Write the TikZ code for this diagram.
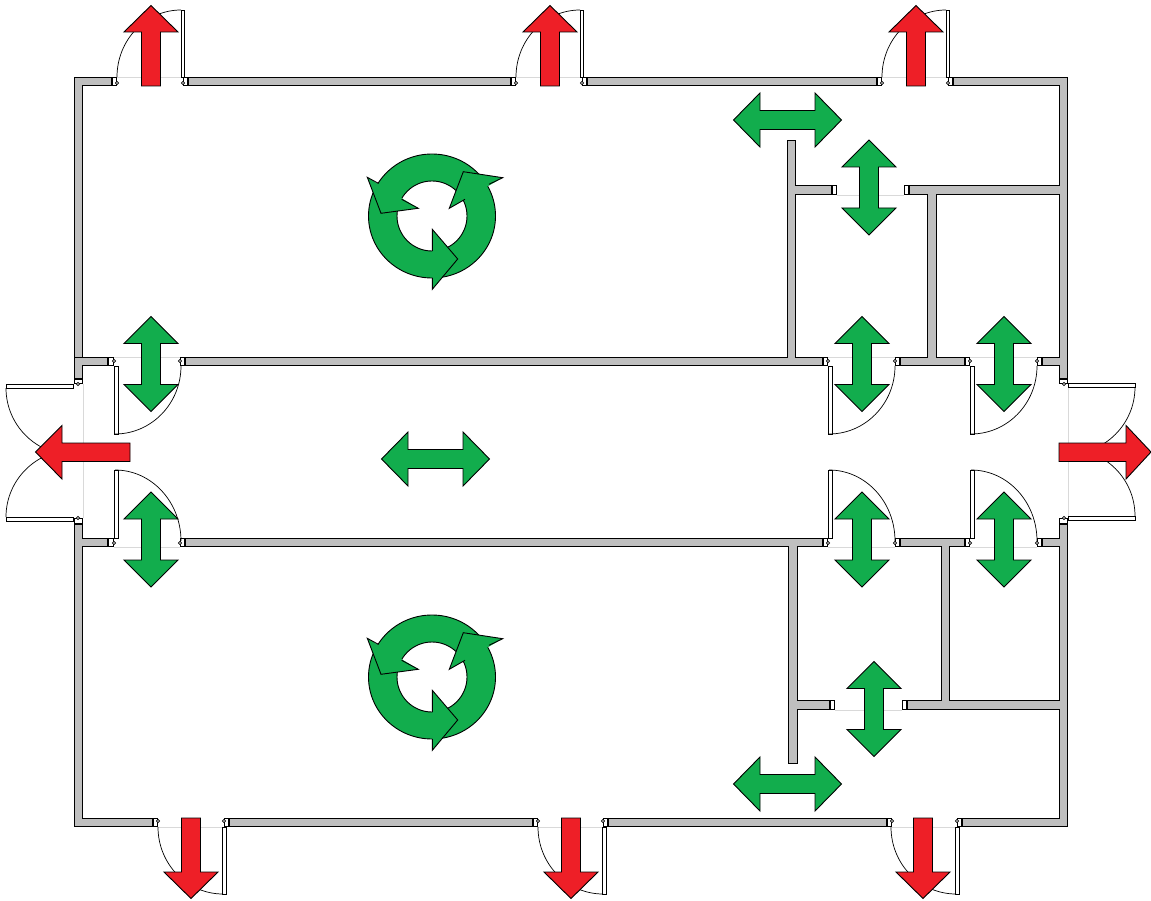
\documentclass[tikz,border=0pt]{standalone}
\usepackage{tikz}

\definecolor{wallgray}{HTML}{BFBFBF}
\definecolor{exitred}{HTML}{EE1F27}
\definecolor{flowgreen}{HTML}{12AD4D}
\definecolor{sillgray}{HTML}{D9D9D9}

\newcommand{\walllist}{
    74/77/112/86, 188/77/511/86, 587/77/877/86, 953/77/1068/86,
    74/818/153/827, 229/818/533/827, 608/818/887/827, 962/818/1068/827,
    74/77/83/379, 74/524/83/827, 1059/77/1068/379, 1059/524/1068/827,
    80/357/108/366, 185/357/823/366, 900/357/965/366, 1042/357/1062/366,
    80/538/108/547, 185/538/823/547, 900/538/965/547, 1042/538/1062/547,
    787/140/796/360, 793/185/832/195, 909/185/1062/195, 927/192/937/360,
    788/544/798/764, 795/700/830/710, 907/700/1062/710, 941/544/950/703}

\begin{document}
\begin{tikzpicture}[x=1pt, y=-1pt]
    \tikzstyle{wall edge}=[draw = black, line width = 1.1pt, fill = wallgray]
    \tikzstyle{wall core}=[fill = wallgray]
    \tikzstyle{jamb}=[draw = black, line width = 0.8pt, fill = white]
    \tikzstyle{leaf}=[draw = black, line width = 0.8pt, fill = white]
    \tikzstyle{swing}=[draw = black, line width = 0.7pt]
    \tikzstyle{sill}=[draw = sillgray, line width = 0.7pt]
    \tikzstyle{red arrow}=[draw = black, line width = 0.9pt, fill = exitred]
    \tikzstyle{green arrow}=[draw = black, line width = 0.9pt, fill = flowgreen]

    \useasboundingbox (0, 0) rectangle (1151, 901);

    \foreach \xa/\xb in {117/182, 516/581, 882/947}
        \draw[sill] (\xa, 77) -- (\xb, 77);
    \foreach \xa/\xb in {158/224, 538/603, 892/957}
        \draw[sill] (\xa, 827) -- (\xb, 827);
    \foreach \xa/\xb in {114/180, 828/895, 970/1037} {
        \draw[sill] (\xa, 357) -- (\xb, 357);
        \draw[sill] (\xa, 547) -- (\xb, 547);
    }
    \draw[sill] (837, 195) -- (904, 195);
    \draw[sill] (835, 710) -- (902, 710);
    \draw[sill] (83, 384) -- (83, 518);
    \draw[sill] (1068, 384) -- (1068, 518);

    \foreach \xa/\ya/\xb/\yb in \walllist
        \path[wall edge] (\xa + 0.5, \ya + 0.5) rectangle (\xb - 0.5, \yb - 0.5);
    \foreach \xa/\ya/\xb/\yb in \walllist
        \path[wall core] (\xa + 1, \ya + 1) rectangle (\xb - 1, \yb - 1);
    \draw[black, line width = 0.8pt] (74, 357.5) -- (83, 357.5);

    \foreach \xa/\ya/\xb/\yb/\cx/\cy in {
        112/77/117/86/117/83, 183/77/188/86/183/83,
        511/77/516/86/516/83, 582/77/587/86/582/83,
        877/77/882/86/882/83, 948/77/953/86/948/83,
        153/818/158/827/158/821, 224/818/229/827/224/821,
        533/818/538/827/538/821, 603/818/608/827/603/821,
        887/818/892/827/892/821, 957/818/962/827/957/821,
        108/357/114/366/114/361, 180/357/185/366/180/361,
        823/357/828/366/828/361, 895/357/900/366/895/361,
        965/357/970/366/970/361, 1037/357/1042/366/1037/361,
        108/538/114/547/114/543, 180/538/185/547/180/543,
        823/538/828/547/828/543, 895/538/900/547/895/543,
        965/538/970/547/970/543, 1037/538/1042/547/1037/543,
        74/379/83/384/78/384, 74/518/83/524/78/518,
        1059/379/1068/384/1064/384, 1059/518/1068/524/1064/518} {
        \path[jamb] (\xa + 0.4, \ya + 0.4) rectangle (\xb - 0.4, \yb - 0.4);
        \path[jamb] (\cx, \cy) circle (1.6pt);
    }
    \foreach \xa/\ya/\xb/\yb in {832/185/837/195, 904/185/909/195,
                                 830/700/835/710, 902/700/907/710}
        \path[jamb] (\xa + 0.4, \ya + 0.4) rectangle (\xb - 0.4, \yb - 0.4);

    \foreach \dx in {0, 399, 765} {
        \path[leaf] (181 + \dx, 10) rectangle (184 + \dx, 77);
        \draw[swing] (181 + \dx, 10) arc[start angle=90, end angle=180, x radius=64pt, y radius=67pt];
    }
    \foreach \dx in {0, 380, 733} {
        \path[leaf] (222 + \dx, 827) rectangle (226 + \dx, 894);
        \draw[swing] (223 + \dx, 894) arc[start angle=270, end angle=180, x radius=65pt, y radius=67pt];
    }
    \foreach \dx in {0, 714, 856} {
        \path[leaf] (114 + \dx, 366) rectangle (118 + \dx, 434);
        \draw[swing] (115 + \dx, 434) arc[start angle=270, end angle=360, x radius=66pt, y radius=68pt];
        \path[leaf] (114 + \dx, 470) rectangle (118 + \dx, 538);
        \draw[swing] (115 + \dx, 470) arc[start angle=90, end angle=0, x radius=66pt, y radius=71pt];
    }
    \path[leaf] (6, 384) rectangle (73, 388);
    \draw[swing] (6, 388) arc[start angle=180, end angle=270, radius=67pt];
    \path[leaf] (6, 517) rectangle (73, 521);
    \draw[swing] (6, 517) arc[start angle=180, end angle=90, radius=67pt];
    \path[leaf] (1068, 383) rectangle (1135, 387);
    \draw[swing] (1135, 387) arc[start angle=0, end angle=-90, radius=67pt];
    \path[leaf] (1068, 516) rectangle (1135, 520);
    \draw[swing] (1135, 516) arc[start angle=0, end angle=90, radius=67pt];

    \foreach \x in {151, 550, 916}
        \draw[red arrow] (\x, 5.5) -- (\x + 27, 32) -- (\x + 9.5, 32) -- (\x + 9.5, 86)
            -- (\x - 9.5, 86) -- (\x - 9.5, 32) -- (\x - 27, 32) -- cycle;
    \foreach \x in {191, 571, 923}
        \draw[red arrow] (\x, 898.5) -- (\x + 27, 872) -- (\x + 9.5, 872) -- (\x + 9.5, 818)
            -- (\x - 9.5, 818) -- (\x - 9.5, 872) -- (\x - 27, 872) -- cycle;
    \draw[red arrow] (35.5, 452) -- (62, 425.5) -- (62, 443) -- (130, 443)
        -- (130, 461.5) -- (62, 461.5) -- (62, 479) -- cycle;
    \draw[red arrow] (1151, 452) -- (1126, 425.5) -- (1126, 443) -- (1059, 443)
        -- (1059, 461.5) -- (1126, 461.5) -- (1126, 479) -- cycle;

    \foreach \x/\y in {151/364, 862/364, 1004/364, 151/539.5, 862/539.5,
                       1004/539.5, 869/187.5, 874/709}
        \draw[green arrow] (\x, \y - 47.5) -- (\x + 27, \y - 20.5) -- (\x + 9.5, \y - 20.5)
            -- (\x + 9.5, \y + 20.5) -- (\x + 27, \y + 20.5) -- (\x, \y + 47.5)
            -- (\x - 27, \y + 20.5) -- (\x - 9.5, \y + 20.5) -- (\x - 9.5, \y - 20.5)
            -- (\x - 27, \y - 20.5) -- cycle;
    \foreach \x/\y in {787.5/120, 787.5/784, 435.5/459}
        \draw[green arrow] (\x - 54, \y) -- (\x - 27.5, \y - 27) -- (\x - 27.5, \y - 9.5)
            -- (\x + 27.5, \y - 9.5) -- (\x + 27.5, \y - 27) -- (\x + 54, \y)
            -- (\x + 27.5, \y + 27) -- (\x + 27.5, \y + 9.5) -- (\x - 27.5, \y + 9.5)
            -- (\x - 27.5, \y + 27) -- cycle;

    \foreach \dy in {0, 461} {
        \begin{scope}[shift={(0, \dy)}]
            \path[green arrow, even odd rule] (432, 216) ellipse[x radius=63.5pt, y radius=62pt]
                (432, 216) circle (35pt);
            \fill[flowgreen] (432.3, 229.3) -- (457.7, 259) -- (432.3, 289.3) -- cycle;
            \draw[green arrow, fill = none] (432.3, 251) -- (432.3, 229.3) -- (457.7, 259)
                -- (432.3, 289.3) -- (432.3, 278);
            \fill[flowgreen] (367.3, 177.3) -- (381, 213.3) -- (418.3, 208.3) -- cycle;
            \draw[green arrow, fill = none] (378.3, 183.3) -- (367.3, 177.3) -- (381, 213.3)
                -- (418.3, 208.3) -- (401.7, 199.3);
            \fill[flowgreen] (502.7, 177.7) -- (463.3, 171.7) -- (449.3, 208.3) -- cycle;
            \draw[green arrow, fill = none] (489, 184.3) -- (502.7, 177.7) -- (463.3, 171.7)
                -- (449.3, 208.3) -- (465, 199.3);
        \end{scope}
    }
\end{tikzpicture}
\end{document}
